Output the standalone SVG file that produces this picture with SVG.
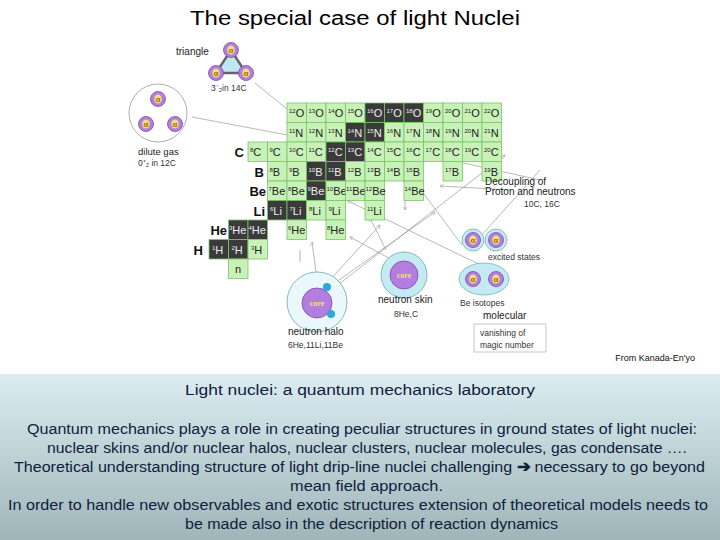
<svg xmlns="http://www.w3.org/2000/svg" width="720" height="540" viewBox="0 0 720 540">
<style>
text{font-family:"Liberation Sans",Arial,sans-serif}
.c{fill:#c8f2b8;stroke:#7cc46a;stroke-width:0.8}
.d{fill:#3a3a3a;stroke:#7cc46a;stroke-width:0.8}
.t{font-size:11px;fill:#222}
.td{font-size:11px;fill:#eee}
.m{font-size:6px}
.lb{font-size:13px;font-weight:bold;fill:#111}
.s{font-size:8.5px;fill:#333}
.ln{stroke:#999;stroke-width:0.7;fill:none}
.al{fill:#b47ee0;stroke:#7a4aa8;stroke-width:0.8}
.ay{fill:#f2e07a}
.a{font-size:8px;fill:#a07000;font-weight:bold}
.bt{font-size:15.5px;fill:#10203c}
</style>
<defs>
<linearGradient id="bg" x1="0" y1="0" x2="0" y2="1"><stop offset="0" stop-color="#dcedf2"/><stop offset="1" stop-color="#9fb6b9"/></linearGradient>
<marker id="ar" viewBox="0 0 10 10" refX="9" refY="5" markerWidth="6" markerHeight="6" orient="auto"><path d="M0,0 L10,5 L0,10" fill="none" stroke="#999" stroke-width="1.2"/></marker>
<g id="alpha"><circle r="7.5" class="al"/><ellipse rx="3.8" ry="4.5" class="ay"/><text y="3" text-anchor="middle" class="a">α</text></g>
</defs>
<rect width="720" height="540" fill="#fff"/>
<text x="190" y="25" textLength="330" lengthAdjust="spacingAndGlyphs" style="font-size:20px" fill="#000">The special case of light Nuclei</text>

<g id="connectors">
<line class="ln" x1="255" y1="83" x2="325" y2="140" marker-end="url(#ar)"/>
<line class="ln" x1="192" y1="117" x2="330" y2="143"/>
<line class="ln" x1="487" y1="268" x2="348" y2="201" marker-end="url(#ar)"/>
<line class="ln" x1="462" y1="245" x2="415" y2="182" marker-end="url(#ar)"/>
<line class="ln" x1="480" y1="237" x2="540" y2="170" />
<line class="ln" x1="540" y1="180" x2="450" y2="160" />
<line class="ln" x1="316" y1="272" x2="312" y2="242" marker-end="url(#ar)"/>
<line class="ln" x1="330" y1="280" x2="380" y2="225" marker-end="url(#ar)"/>
<line class="ln" x1="332" y1="285" x2="435" y2="212" marker-end="url(#ar)"/>
<line class="ln" x1="334" y1="288" x2="505" y2="155" marker-end="url(#ar)"/>
<line class="ln" x1="396" y1="262" x2="350" y2="237" marker-end="url(#ar)"/>
<line class="ln" x1="386" y1="250" x2="370" y2="218" marker-end="url(#ar)"/>
<line class="ln" x1="300" y1="262" x2="300" y2="250"/>
<line class="ln" x1="510" y1="190" x2="440" y2="186" marker-end="url(#ar)"/>
<line class="ln" x1="476" y1="144" x2="405" y2="140"/>
<line class="ln" x1="405" y1="200" x2="405" y2="210" marker-end="url(#ar)"/>
</g>

<g id="chart">
<g id="rowO">
<rect class="c" x="287" y="103" width="19.5" height="19.5"/><text class="t" x="289" y="117"><tspan class="m" dy="-4">12</tspan><tspan dy="4">O</tspan></text>
<rect class="c" x="306.5" y="103" width="19.5" height="19.5"/><text class="t" x="308.5" y="117"><tspan class="m" dy="-4">13</tspan><tspan dy="4">O</tspan></text>
<rect class="c" x="326" y="103" width="19.5" height="19.5"/><text class="t" x="328" y="117"><tspan class="m" dy="-4">14</tspan><tspan dy="4">O</tspan></text>
<rect class="c" x="345.5" y="103" width="19.5" height="19.5"/><text class="t" x="347.5" y="117"><tspan class="m" dy="-4">15</tspan><tspan dy="4">O</tspan></text>
<rect class="d" x="365" y="103" width="19.5" height="19.5"/><text class="td" x="367" y="117"><tspan class="m" dy="-4">16</tspan><tspan dy="4">O</tspan></text>
<rect class="d" x="384.5" y="103" width="19.5" height="19.5"/><text class="td" x="386.5" y="117"><tspan class="m" dy="-4">17</tspan><tspan dy="4">O</tspan></text>
<rect class="d" x="404" y="103" width="19.5" height="19.5"/><text class="td" x="406" y="117"><tspan class="m" dy="-4">18</tspan><tspan dy="4">O</tspan></text>
<rect class="c" x="423.5" y="103" width="19.5" height="19.5"/><text class="t" x="425.5" y="117"><tspan class="m" dy="-4">19</tspan><tspan dy="4">O</tspan></text>
<rect class="c" x="443" y="103" width="19.5" height="19.5"/><text class="t" x="445" y="117"><tspan class="m" dy="-4">20</tspan><tspan dy="4">O</tspan></text>
<rect class="c" x="462.5" y="103" width="19.5" height="19.5"/><text class="t" x="464.5" y="117"><tspan class="m" dy="-4">21</tspan><tspan dy="4">O</tspan></text>
<rect class="c" x="482" y="103" width="19.5" height="19.5"/><text class="t" x="484" y="117"><tspan class="m" dy="-4">22</tspan><tspan dy="4">O</tspan></text>
</g>
<g id="rowN">
<rect class="c" x="287" y="122.5" width="19.5" height="19.5"/><text class="t" x="289" y="136.5"><tspan class="m" dy="-4">11</tspan><tspan dy="4">N</tspan></text>
<rect class="c" x="306.5" y="122.5" width="19.5" height="19.5"/><text class="t" x="308.5" y="136.5"><tspan class="m" dy="-4">12</tspan><tspan dy="4">N</tspan></text>
<rect class="c" x="326" y="122.5" width="19.5" height="19.5"/><text class="t" x="328" y="136.5"><tspan class="m" dy="-4">13</tspan><tspan dy="4">N</tspan></text>
<rect class="d" x="345.5" y="122.5" width="19.5" height="19.5"/><text class="td" x="347.5" y="136.5"><tspan class="m" dy="-4">14</tspan><tspan dy="4">N</tspan></text>
<rect class="d" x="365" y="122.5" width="19.5" height="19.5"/><text class="td" x="367" y="136.5"><tspan class="m" dy="-4">15</tspan><tspan dy="4">N</tspan></text>
<rect class="c" x="384.5" y="122.5" width="19.5" height="19.5"/><text class="t" x="386.5" y="136.5"><tspan class="m" dy="-4">16</tspan><tspan dy="4">N</tspan></text>
<rect class="c" x="404" y="122.5" width="19.5" height="19.5"/><text class="t" x="406" y="136.5"><tspan class="m" dy="-4">17</tspan><tspan dy="4">N</tspan></text>
<rect class="c" x="423.5" y="122.5" width="19.5" height="19.5"/><text class="t" x="425.5" y="136.5"><tspan class="m" dy="-4">18</tspan><tspan dy="4">N</tspan></text>
<rect class="c" x="443" y="122.5" width="19.5" height="19.5"/><text class="t" x="445" y="136.5"><tspan class="m" dy="-4">19</tspan><tspan dy="4">N</tspan></text>
<rect class="c" x="462.5" y="122.5" width="19.5" height="19.5"/><text class="t" x="464.5" y="136.5"><tspan class="m" dy="-4">20</tspan><tspan dy="4">N</tspan></text>
<rect class="c" x="482" y="122.5" width="19.5" height="19.5"/><text class="t" x="484" y="136.5"><tspan class="m" dy="-4">21</tspan><tspan dy="4">N</tspan></text>
</g>
<g id="rowC">
<text class="lb" x="244" y="157" text-anchor="end">C</text>
<rect class="c" x="248" y="142" width="19.5" height="19.5"/><text class="t" x="250" y="156"><tspan class="m" dy="-4">8</tspan><tspan dy="4">C</tspan></text>
<rect class="c" x="267.5" y="142" width="19.5" height="19.5"/><text class="t" x="269.5" y="156"><tspan class="m" dy="-4">9</tspan><tspan dy="4">C</tspan></text>
<rect class="c" x="287" y="142" width="19.5" height="19.5"/><text class="t" x="289" y="156"><tspan class="m" dy="-4">10</tspan><tspan dy="4">C</tspan></text>
<rect class="c" x="306.5" y="142" width="19.5" height="19.5"/><text class="t" x="308.5" y="156"><tspan class="m" dy="-4">11</tspan><tspan dy="4">C</tspan></text>
<rect class="d" x="326" y="142" width="19.5" height="19.5"/><text class="td" x="328" y="156"><tspan class="m" dy="-4">12</tspan><tspan dy="4">C</tspan></text>
<rect class="d" x="345.5" y="142" width="19.5" height="19.5"/><text class="td" x="347.5" y="156"><tspan class="m" dy="-4">13</tspan><tspan dy="4">C</tspan></text>
<rect class="c" x="365" y="142" width="19.5" height="19.5"/><text class="t" x="367" y="156"><tspan class="m" dy="-4">14</tspan><tspan dy="4">C</tspan></text>
<rect class="c" x="384.5" y="142" width="19.5" height="19.5"/><text class="t" x="386.5" y="156"><tspan class="m" dy="-4">15</tspan><tspan dy="4">C</tspan></text>
<rect class="c" x="404" y="142" width="19.5" height="19.5"/><text class="t" x="406" y="156"><tspan class="m" dy="-4">16</tspan><tspan dy="4">C</tspan></text>
<rect class="c" x="423.5" y="142" width="19.5" height="19.5"/><text class="t" x="425.5" y="156"><tspan class="m" dy="-4">17</tspan><tspan dy="4">C</tspan></text>
<rect class="c" x="443" y="142" width="19.5" height="19.5"/><text class="t" x="445" y="156"><tspan class="m" dy="-4">18</tspan><tspan dy="4">C</tspan></text>
<rect class="c" x="462.5" y="142" width="19.5" height="19.5"/><text class="t" x="464.5" y="156"><tspan class="m" dy="-4">19</tspan><tspan dy="4">C</tspan></text>
<rect class="c" x="482" y="142" width="19.5" height="19.5"/><text class="t" x="484" y="156"><tspan class="m" dy="-4">20</tspan><tspan dy="4">C</tspan></text>
</g>
<g id="rowB">
<text class="lb" x="264" y="176.5" text-anchor="end">B</text>
<rect class="c" x="267.5" y="161.5" width="19.5" height="19.5"/><text class="t" x="269.5" y="175.5"><tspan class="m" dy="-4">8</tspan><tspan dy="4">B</tspan></text>
<rect class="c" x="287" y="161.5" width="19.5" height="19.5"/><text class="t" x="289" y="175.5"><tspan class="m" dy="-4">9</tspan><tspan dy="4">B</tspan></text>
<rect class="d" x="306.5" y="161.5" width="19.5" height="19.5"/><text class="td" x="308.5" y="175.5"><tspan class="m" dy="-4">10</tspan><tspan dy="4">B</tspan></text>
<rect class="d" x="326" y="161.5" width="19.5" height="19.5"/><text class="td" x="328" y="175.5"><tspan class="m" dy="-4">11</tspan><tspan dy="4">B</tspan></text>
<rect class="c" x="345.5" y="161.5" width="19.5" height="19.5"/><text class="t" x="347.5" y="175.5"><tspan class="m" dy="-4">12</tspan><tspan dy="4">B</tspan></text>
<rect class="c" x="365" y="161.5" width="19.5" height="19.5"/><text class="t" x="367" y="175.5"><tspan class="m" dy="-4">13</tspan><tspan dy="4">B</tspan></text>
<rect class="c" x="384.5" y="161.5" width="19.5" height="19.5"/><text class="t" x="386.5" y="175.5"><tspan class="m" dy="-4">14</tspan><tspan dy="4">B</tspan></text>
<rect class="c" x="404" y="161.5" width="19.5" height="19.5"/><text class="t" x="406" y="175.5"><tspan class="m" dy="-4">15</tspan><tspan dy="4">B</tspan></text>
<rect class="c" x="443" y="161.5" width="19.5" height="19.5"/><text class="t" x="445" y="175.5"><tspan class="m" dy="-4">17</tspan><tspan dy="4">B</tspan></text>
<rect class="c" x="482" y="161.5" width="19.5" height="19.5"/><text class="t" x="484" y="175.5"><tspan class="m" dy="-4">19</tspan><tspan dy="4">B</tspan></text>
</g>
<g id="rowBe">
<text class="lb" x="266" y="196" text-anchor="end">Be</text>
<rect class="c" x="267.5" y="181" width="19.5" height="19.5"/><text class="t" x="268.5" y="195"><tspan class="m" dy="-4">7</tspan><tspan dy="4">Be</tspan></text>
<rect class="c" x="287" y="181" width="19.5" height="19.5"/><text class="t" x="288" y="195"><tspan class="m" dy="-4">8</tspan><tspan dy="4">Be</tspan></text>
<rect class="d" x="306.5" y="181" width="19.5" height="19.5"/><text class="td" x="307.5" y="195"><tspan class="m" dy="-4">9</tspan><tspan dy="4">Be</tspan></text>
<rect class="c" x="326" y="181" width="19.5" height="19.5"/><text class="t" x="326.5" y="195"><tspan class="m" dy="-4">10</tspan><tspan dy="4">Be</tspan></text>
<rect class="c" x="345.5" y="181" width="19.5" height="19.5"/><text class="t" x="346" y="195"><tspan class="m" dy="-4">11</tspan><tspan dy="4">Be</tspan></text>
<rect class="c" x="365" y="181" width="19.5" height="19.5"/><text class="t" x="365.5" y="195"><tspan class="m" dy="-4">12</tspan><tspan dy="4">Be</tspan></text>
<rect class="c" x="404" y="181" width="19.5" height="19.5"/><text class="t" x="404.5" y="195"><tspan class="m" dy="-4">14</tspan><tspan dy="4">Be</tspan></text>
</g>
<g id="rowLi">
<text class="lb" x="265" y="215.5" text-anchor="end">Li</text>
<rect class="d" x="267.5" y="200.5" width="19.5" height="19.5"/><text class="td" x="270" y="214.5"><tspan class="m" dy="-4">6</tspan><tspan dy="4">Li</tspan></text>
<rect class="d" x="287" y="200.5" width="19.5" height="19.5"/><text class="td" x="289.5" y="214.5"><tspan class="m" dy="-4">7</tspan><tspan dy="4">Li</tspan></text>
<rect class="c" x="306.5" y="200.5" width="19.5" height="19.5"/><text class="t" x="309" y="214.5"><tspan class="m" dy="-4">8</tspan><tspan dy="4">Li</tspan></text>
<rect class="c" x="326" y="200.5" width="19.5" height="19.5"/><text class="t" x="328.5" y="214.5"><tspan class="m" dy="-4">9</tspan><tspan dy="4">Li</tspan></text>
<rect class="c" x="365" y="200.5" width="19.5" height="19.5"/><text class="t" x="367" y="214.5"><tspan class="m" dy="-4">11</tspan><tspan dy="4">Li</tspan></text>
</g>
<g id="rowHe">
<text class="lb" x="227" y="235" text-anchor="end">He</text>
<rect class="d" x="228.5" y="220" width="19.5" height="19.5"/><text class="td" x="229" y="234"><tspan class="m" dy="-4">3</tspan><tspan dy="4">He</tspan></text>
<rect class="d" x="248" y="220" width="19.5" height="19.5"/><text class="td" x="248.5" y="234"><tspan class="m" dy="-4">4</tspan><tspan dy="4">He</tspan></text>
<rect class="c" x="287" y="220" width="19.5" height="19.5"/><text class="t" x="288" y="234"><tspan class="m" dy="-4">6</tspan><tspan dy="4">He</tspan></text>
<rect class="c" x="326" y="220" width="19.5" height="19.5"/><text class="t" x="327" y="234"><tspan class="m" dy="-4">8</tspan><tspan dy="4">He</tspan></text>
</g>
<g id="rowH">
<text class="lb" x="203" y="254.5" text-anchor="end">H</text>
<rect class="d" x="209" y="239.5" width="19.5" height="19.5"/><text class="td" x="212" y="253.5"><tspan class="m" dy="-4">1</tspan><tspan dy="4">H</tspan></text>
<rect class="d" x="228.5" y="239.5" width="19.5" height="19.5"/><text class="td" x="231.5" y="253.5"><tspan class="m" dy="-4">2</tspan><tspan dy="4">H</tspan></text>
<rect class="c" x="248" y="239.5" width="19.5" height="19.5"/><text class="t" x="251" y="253.5"><tspan class="m" dy="-4">3</tspan><tspan dy="4">H</tspan></text>
<rect class="c" x="228.5" y="259" width="19.5" height="19.5"/><text class="t" x="238" y="273" text-anchor="middle">n</text>
</g>
</g>

<g id="triangle">
<text x="176" y="55" style="font-size:10px" fill="#222">triangle</text>
<path d="M231,50 L216,73 L246,73 Z" fill="#bfe6f5" stroke="#666" stroke-width="2.5"/>
<use href="#alpha" x="231" y="50"/><use href="#alpha" x="216" y="73"/><use href="#alpha" x="246" y="73"/>
<text x="211" y="91" class="s">3⁻₂in 14C</text>
</g>
<g id="dilute">
<circle cx="158" cy="113" r="29" fill="#fff" stroke="#999" stroke-width="0.8"/>
<use href="#alpha" x="158" y="99"/><use href="#alpha" x="146" y="124"/><use href="#alpha" x="175" y="124"/>
<text x="138" y="155" style="font-size:9.5px" fill="#222">dilute gas</text>
<text x="138" y="166" class="s">0⁺₂ in 12C</text>
</g>
<g id="decoupling">
<text x="485" y="185" style="font-size:10px" fill="#222">Decoupling of</text>
<text x="485" y="195" style="font-size:10px" fill="#222">Proton and neutrons</text>
<text x="524" y="207" class="s">10C, 16C</text>
</g>
<g id="excited">
<circle cx="473" cy="240" r="11" fill="#c4eaf4" stroke="#6aa" stroke-width="0.7"/>
<circle cx="496" cy="240" r="11" fill="#c4eaf4" stroke="#6aa" stroke-width="0.7"/>
<use href="#alpha" x="473" y="240"/><use href="#alpha" x="496" y="240"/>
<text x="488" y="260" class="s">excited states</text>
</g>
<g id="beiso">
<ellipse cx="484" cy="279" rx="25" ry="16" fill="#c4eaf4" stroke="#6aa" stroke-width="0.7"/>
<use href="#alpha" x="473" y="279"/><use href="#alpha" x="496" y="279"/>
<text x="460" y="306" class="s">Be isotopes</text>
<text x="483" y="319" style="font-size:10px" fill="#222">molecular</text>
</g>
<g id="vanish">
<rect x="474" y="324" width="72" height="28" fill="#fff" stroke="#bbb" stroke-width="0.8"/>
<text x="480" y="336" class="s">vanishing of</text>
<text x="480" y="348" class="s">magic number</text>
</g>
<g id="skin">
<circle cx="404" cy="275" r="23" fill="#c4eaf4" stroke="#6aa" stroke-width="0.8"/>
<circle cx="404" cy="275" r="14" class="al"/>
<text x="404" y="278" text-anchor="middle" style="font-size:8px;font-weight:bold;font-family:'Liberation Serif',serif" fill="#f2e07a">core</text>
<text x="378" y="303" style="font-size:10px" fill="#222">neutron skin</text>
<text x="394" y="317" class="s">8He,C</text>
</g>
<g id="halo">
<circle cx="317" cy="302" r="30" fill="#eaf7fb" stroke="#6aa" stroke-width="0.8"/>
<circle cx="317" cy="303" r="15" class="al"/>
<text x="317" y="306" text-anchor="middle" style="font-size:8px;font-weight:bold;font-family:'Liberation Serif',serif" fill="#f2e07a">core</text>
<circle cx="327" cy="287" r="4" fill="#2ea6d8"/>
<circle cx="331" cy="314" r="4" fill="#2ea6d8"/>
<text x="288" y="335" style="font-size:10px" fill="#222">neutron halo</text>
<text x="288" y="348" class="s">6He,11Li,11Be</text>
</g>
<text x="695" y="361" text-anchor="end" style="font-size:9px" fill="#111">From Kanada-En'yo</text>

<g id="panel">
<rect x="0" y="374" width="720" height="166" fill="url(#bg)"/>
<text x="185" y="395" textLength="350" lengthAdjust="spacingAndGlyphs" class="bt">Light nuclei: a quantum mechanics laboratory</text>
<text x="27" y="434" textLength="670" lengthAdjust="spacingAndGlyphs" class="bt">Quantum mechanics plays a role in creating peculiar structures in ground states of light nuclei:</text>
<text x="47" y="453" textLength="640" lengthAdjust="spacingAndGlyphs" class="bt">nuclear skins and/or nuclear halos, nuclear clusters, nuclear molecules, gas condensate ….</text>
<text x="14" y="472" textLength="691" lengthAdjust="spacingAndGlyphs" class="bt">Theoretical understanding structure of light drip-line nuclei challenging <tspan font-weight="bold">➔</tspan> necessary to go beyond</text>
<text x="290" y="491" textLength="153" lengthAdjust="spacingAndGlyphs" class="bt">mean field approach.</text>
<text x="8" y="510" textLength="700" lengthAdjust="spacingAndGlyphs" class="bt">In order to handle new observables and exotic structures extension of  theoretical models needs to</text>
<text x="185" y="529" textLength="373" lengthAdjust="spacingAndGlyphs" class="bt">be made also in the description of reaction dynamics</text>
</g>
</svg>
